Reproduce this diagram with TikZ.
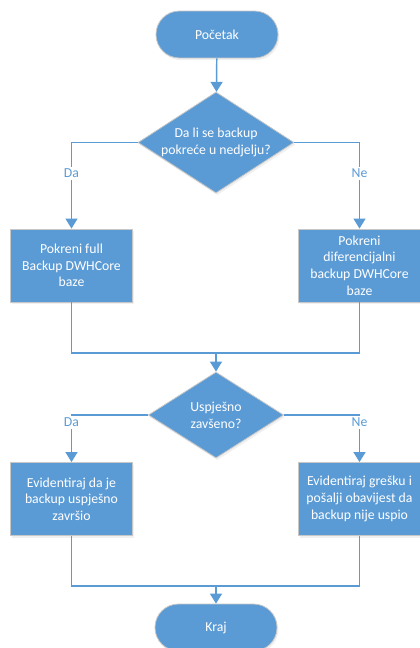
\documentclass[tikz,border=0pt]{standalone}
\usepackage{fontspec}
\setmainfont{Carlito}
\usetikzlibrary{arrows.meta, shapes.geometric, shadows}
\usepackage{xcolor}
\definecolor{flowblue}{HTML}{5B9BD5}
\colorlet{flowedge}{black!22}
\tikzset{
  base shape/.style={fill=flowblue, draw=flowedge, line width=0.6pt, text=white, align=center,
    font=\fontsize{10.3}{12.5}\selectfont, inner sep=0pt,
    drop shadow={opacity=0.12, shadow xshift=1pt, shadow yshift=-1.6pt}},
  node term/.style={base shape, rectangle, rounded corners=17.5pt, minimum width=91.5pt, minimum height=35.2pt},
  node proc/.style={base shape, rectangle, minimum width=92pt, minimum height=54.8pt},
  node dec/.style={base shape, diamond, aspect=1.55},
  flow line/.style={draw=flowblue, line width=1.1pt},
  flow arrow/.style={flow line, -{Triangle[length=7.5pt, width=9pt]}},
  branch/.style={fill=white, text=flowblue, inner sep=1.5pt, font=\fontsize{10.3}{12.5}\selectfont}
}

\begin{document}
\begin{tikzpicture}[x=0.75pt, y=-0.75pt]

  \useasboundingbox (0,0) rectangle (419,648);

  % ===============================================================
  % SECTION 1: START AND FIRST DECISION
  % ===============================================================

  \node[node term] (start) at (217, 34.5) {Početak};
  \node[node dec, minimum width=117pt, minimum height=75.8pt] (q-sunday) at (216, 142.5) {Da li se backup\\pokreće u nedjelju?};

  \draw[flow arrow] (start) -- (q-sunday);

  % ===============================================================
  % SECTION 2: BACKUP BRANCHES
  % ===============================================================

  \node[node proc] (full-backup) at (71.5, 265.5) {Pokreni full\\Backup DWHCore\\baze};
  \node[node proc] (diff-backup) at (359.5, 265.5) {Pokreni\\diferencijalni\\backup DWHCore\\baze};

  \draw[flow arrow] (q-sunday.west) -| (full-backup.north) node[branch, pos=0.68] {Da};
  \draw[flow arrow] (q-sunday.east) -| (diff-backup.north) node[branch, pos=0.68] {Ne};

  % Joining the two branches
  \coordinate (join-1) at (216, 353);
  \draw[flow line] (full-backup.south) |- (join-1) -| (diff-backup.south);

  % ===============================================================
  % SECTION 3: SECOND DECISION
  % ===============================================================

  \node[node dec, minimum width=101.5pt, minimum height=64.5pt] (q-success) at (216, 415) {Uspješno\\zavšeno?};

  \draw[flow arrow] (join-1) -- (q-success);

  \node[node proc] (log-ok) at (71.5, 499) {Evidentiraj da je\\backup uspješno\\završio};
  \node[node proc] (log-fail) at (359.5, 499) {Evidentiraj grešku i\\pošalji obavijest da\\backup nije uspio};

  \draw[flow arrow] (q-success.west) -| (log-ok.north) node[branch, pos=0.58] {Da};
  \draw[flow arrow] (q-success.east) -| (log-fail.north) node[branch, pos=0.58] {Ne};

  % ===============================================================
  % SECTION 4: END
  % ===============================================================

  \coordinate (join-2) at (216, 586);
  \draw[flow line] (log-ok.south) |- (join-2) -| (log-fail.south);

  \node[node term] (stop) at (216, 627.5) {Kraj};

  \draw[flow arrow] (join-2) -- (stop);

\end{tikzpicture}
\end{document}
